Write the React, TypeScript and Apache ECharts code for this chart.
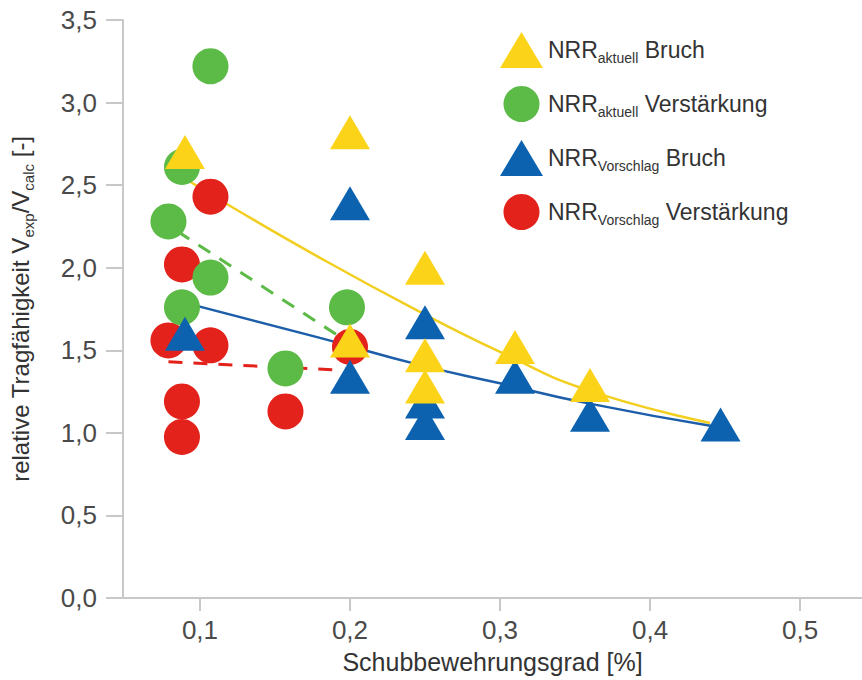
import React, { useEffect, useRef } from "react";
import * as echarts from "echarts";

const FONT = "'Liberation Sans', Arial, sans-serif";
const TEXT_COLOR = "#4a4a4a";
const AXIS_COLOR = "#c8c8c8";

const xTickValues = [0.1, 0.2, 0.3, 0.4, 0.5];

// [Schubbewehrungsgrad %, V_exp / V_calc]
const aktuellBruch: [number, number][] = [
  [0.09, 2.7], [0.2, 2.82], [0.25, 2.0], [0.2, 1.56],
  [0.25, 1.47], [0.25, 1.28], [0.31, 1.52], [0.36, 1.29],
];
const aktuellVerstaerkung: [number, number][] = [
  [0.107, 3.22], [0.088, 2.61], [0.079, 2.28], [0.107, 1.94],
  [0.088, 1.76], [0.198, 1.76], [0.157, 1.39],
];
const vorschlagBruch: [number, number][] = [
  [0.09, 1.6], [0.2, 2.39], [0.2, 1.34], [0.25, 1.67], [0.25, 1.19],
  [0.25, 1.06], [0.31, 1.34], [0.36, 1.11], [0.447, 1.05],
];
const vorschlagVerstaerkung: [number, number][] = [
  [0.107, 2.43], [0.088, 2.02], [0.079, 1.56], [0.107, 1.53],
  [0.088, 1.19], [0.088, 0.975], [0.157, 1.13], [0.2, 1.52],
];

// Trend lines
const aktuellBruchTrend: [number, number][] = [
  [0.09, 2.54], [0.119, 2.38], [0.18, 2.06], [0.245, 1.74],
  [0.3, 1.49], [0.358, 1.26], [0.44, 1.06],
];
const vorschlagBruchTrend: [number, number][] = [
  [0.089, 1.79], [0.18, 1.575], [0.247, 1.41], [0.3, 1.3],
  [0.358, 1.18], [0.445, 1.035],
];
const aktuellVerstaerkungTrend: [number, number][] = [[0.085, 2.22], [0.197, 1.56]];
const vorschlagVerstaerkungTrend: [number, number][] = [[0.079, 1.43], [0.193, 1.38]];

const YELLOW = "#fbd41a";
const GREEN = "#5cba47";
const BLUE = "#0d62b0";
const RED = "#e3221c";

const legendRich: Record<string, string> = {
  "NRR aktuell Bruch": "{m|NRR}{s|aktuell}{m| Bruch}",
  "NRR aktuell Verstärkung": "{m|NRR}{s|aktuell}{m| Verstärkung}",
  "NRR Vorschlag Bruch": "{m|NRR}{s|Vorschlag}{m| Bruch}",
  "NRR Vorschlag Verstärkung": "{m|NRR}{s|Vorschlag}{m| Verstärkung}",
};

const richStyles = (main: number, sub: number, pad: number) => ({
  m: { fontSize: main, lineHeight: main + 6, fontFamily: FONT, color: "#333" },
  s: { fontSize: sub, lineHeight: sub, padding: [pad, 0, 0, 0], fontFamily: FONT, color: "#333" },
});

const comma = (v: number) => v.toFixed(1).replace(".", ",");

export default function App() {
  const ref = useRef<HTMLDivElement>(null);

  useEffect(() => {
    document.body.style.margin = "0";
    const chart = echarts.init(ref.current!, null, { renderer: "svg" });

    const lineSeries = (data: [number, number][], color: string, dashed: boolean, smooth: boolean) => ({
      type: "line",
      data,
      showSymbol: false,
      symbol: "none",
      smooth,
      silent: true,
      z: 1,
      lineStyle: { color, width: dashed ? 3 : 2.5, type: dashed ? [14, 11] : "solid" },
    });

    chart.setOption({
      animation: false,
      backgroundColor: "#ffffff",
      grid: { left: 123, right: 0, top: 20, bottom: 82, containLabel: false, outerBoundsMode: "none" },
      legend: {
        orient: "vertical",
        left: 495,
        top: 27,
        itemWidth: 43,
        itemHeight: 36,
        itemGap: 18,
        selectedMode: false,
        data: Object.keys(legendRich),
        formatter: (name: string) => legendRich[name],
        textStyle: { rich: richStyles(23, 14, 15) },
      },
      xAxis: {
        type: "value",
        min: 0.0487,
        max: 0.5413,
        splitLine: { show: false },
        axisLine: { show: true, lineStyle: { color: AXIS_COLOR, width: 2 } },
        axisTick: { show: true, length: 13, customValues: xTickValues, lineStyle: { color: AXIS_COLOR, width: 2 } },
        axisLabel: {
          customValues: xTickValues,
          formatter: comma,
          margin: 19,
          fontSize: 26,
          fontFamily: FONT,
          color: TEXT_COLOR,
        },
        name: "Schubbewehrungsgrad [%]",
        nameLocation: "middle",
        nameGap: 51,
        nameTextStyle: { fontSize: 25, fontFamily: FONT, color: "#333" },
      },
      yAxis: {
        type: "value",
        min: 0,
        max: 3.5,
        interval: 0.5,
        splitLine: { show: false },
        axisLine: { show: true, lineStyle: { color: AXIS_COLOR, width: 2 } },
        axisTick: { show: true, length: 17, lineStyle: { color: AXIS_COLOR, width: 2 } },
        axisLabel: {
          formatter: comma,
          margin: 26,
          fontSize: 26,
          fontFamily: FONT,
          color: TEXT_COLOR,
        },
        name: "{m|relative Tragfähigkeit V}{s|exp}{m|/V}{s|calc}{m| [-]}",
        nameLocation: "middle",
        nameGap: 88,
        nameTextStyle: { rich: richStyles(24, 15, 16) },
      },
      series: [
        lineSeries(aktuellBruchTrend, "#f2cf1f", false, true),
        lineSeries(vorschlagBruchTrend, "#1c5ea9", false, true),
        lineSeries(aktuellVerstaerkungTrend, GREEN, true, false),
        lineSeries(vorschlagVerstaerkungTrend, RED, true, false),
        {
          name: "NRR aktuell Bruch",
          type: "scatter",
          data: aktuellBruch,
          symbol: "triangle",
          symbolSize: [40, 34],
          itemStyle: { color: YELLOW, opacity: 1 },
          z: 5,
        },
        {
          name: "NRR aktuell Verstärkung",
          type: "scatter",
          data: aktuellVerstaerkung,
          symbol: "circle",
          symbolSize: 36,
          itemStyle: { color: GREEN, opacity: 1 },
          z: 3,
        },
        {
          name: "NRR Vorschlag Bruch",
          type: "scatter",
          data: vorschlagBruch,
          symbol: "triangle",
          symbolSize: [40, 34],
          itemStyle: { color: BLUE, opacity: 1 },
          z: 4,
        },
        {
          name: "NRR Vorschlag Verstärkung",
          type: "scatter",
          data: vorschlagVerstaerkung,
          symbol: "circle",
          symbolSize: 36,
          itemStyle: { color: RED, opacity: 1 },
          z: 2,
        },
      ],
    });

    return () => chart.dispose();
  }, []);

  return <div ref={ref} style={{ width: 862, height: 680 }} />;
}
